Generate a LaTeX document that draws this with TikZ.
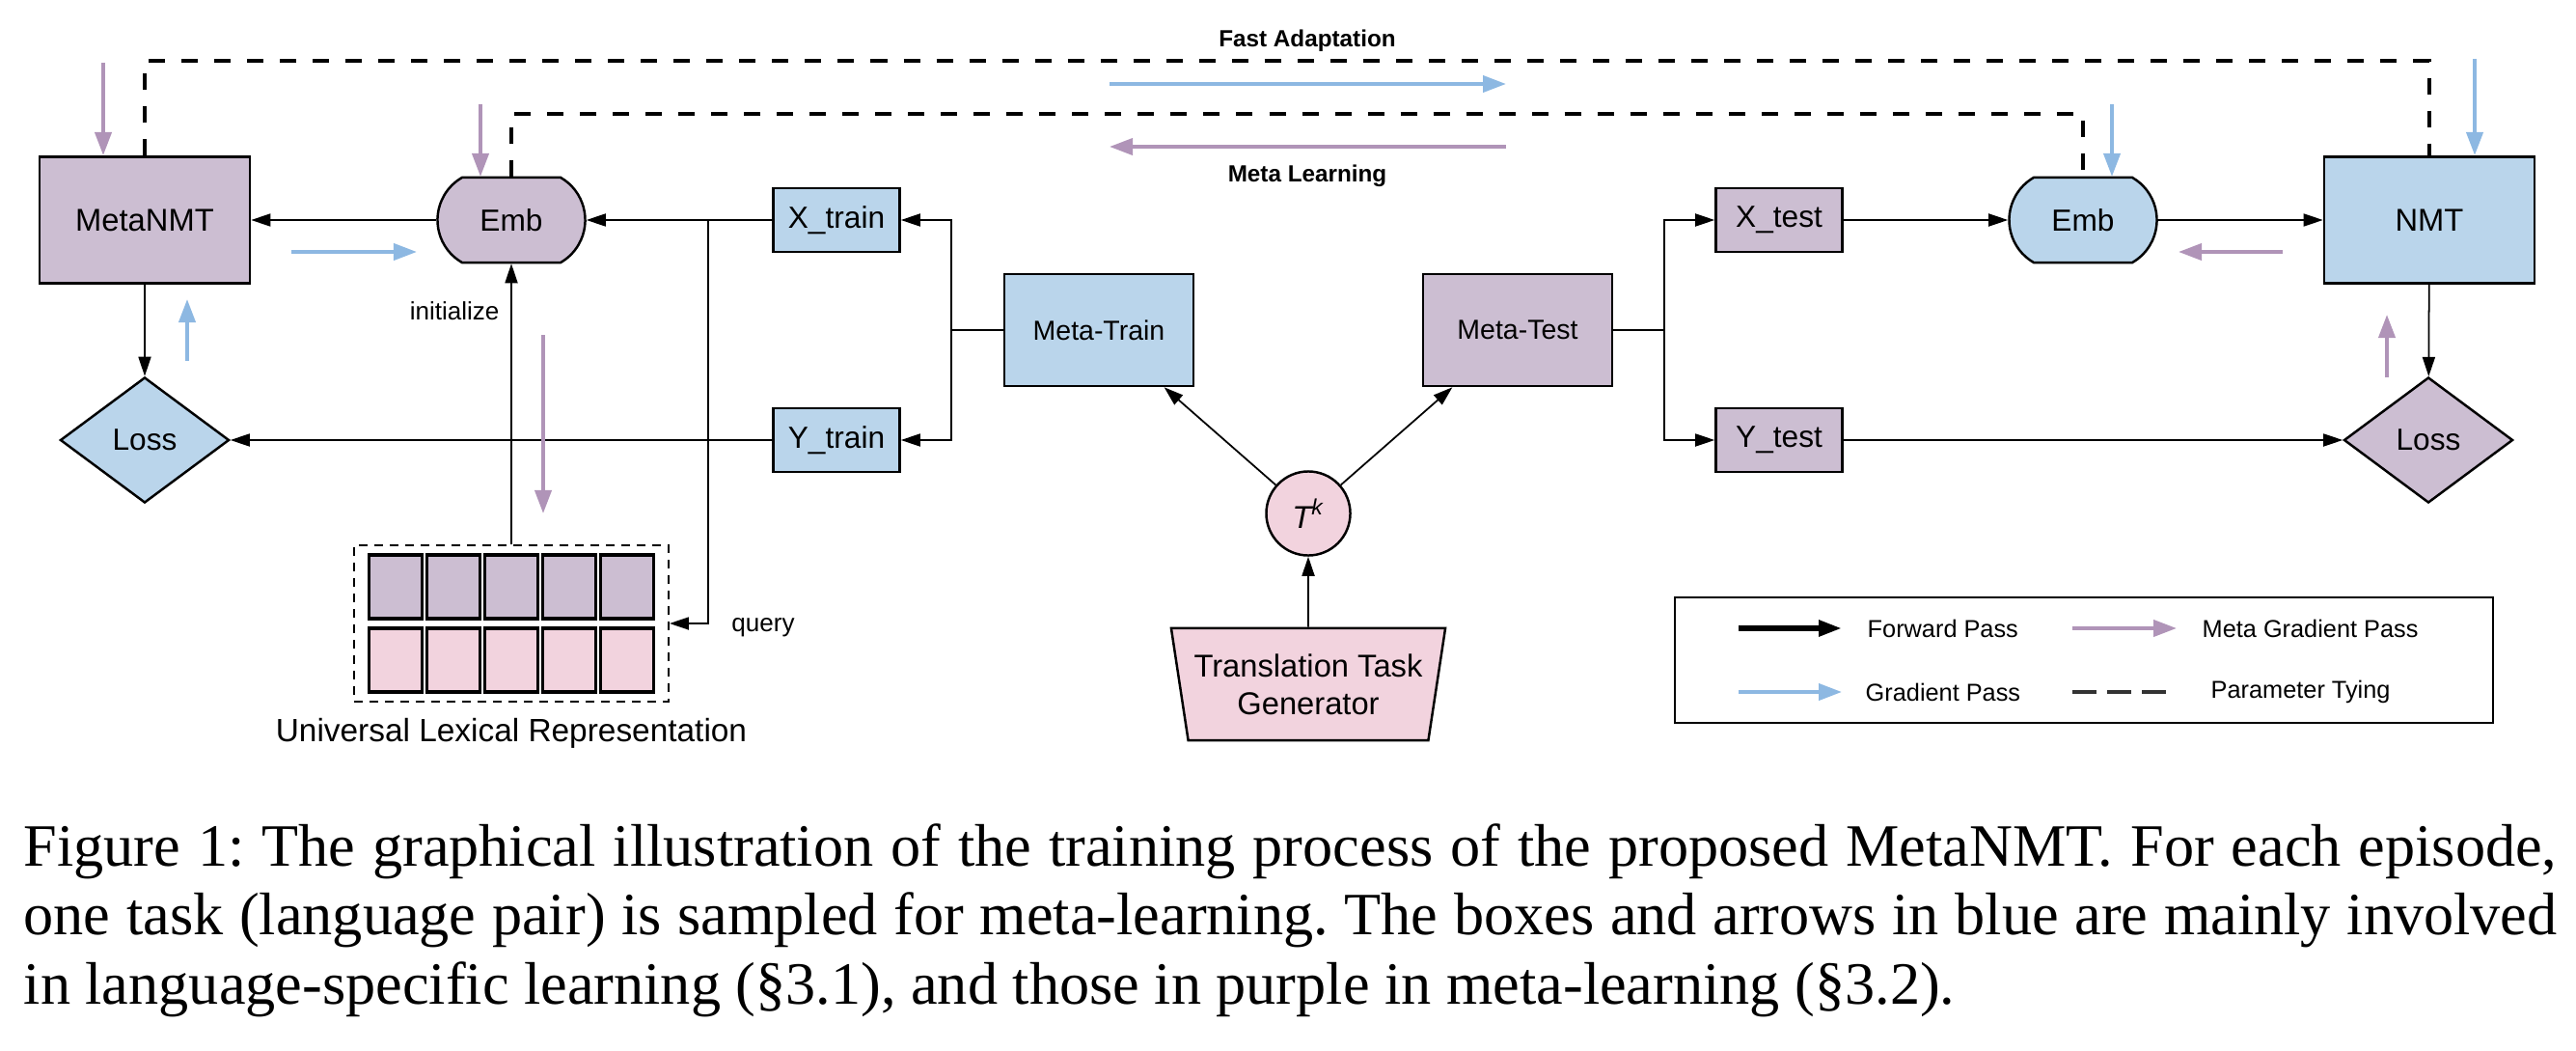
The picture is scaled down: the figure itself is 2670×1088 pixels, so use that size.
\documentclass[tikz,border=0pt]{standalone}
\usepackage{fontspec}
\setmainfont{Liberation Sans}
\newfontfamily\capfont{Liberation Serif}
\usetikzlibrary{
    arrows.meta,
    positioning,
    calc,
    shapes.geometric,
    shapes.misc
}
\definecolor{metapurple}{RGB}{204,190,210}
\definecolor{langblue}{RGB}{186,213,235}
\definecolor{taskpink}{RGB}{242,211,222}
\definecolor{gradblue}{RGB}{141,184,226}
\definecolor{gradpurple}{RGB}{176,148,184}
\tikzset{
  box/.style    = {draw, line width=0.7pt, inner sep=0pt, align=center,
                   font=\fontsize{9}{10.5}\selectfont},
  fwd/.style    = {-{Triangle[length=0.2cm,width=0.13cm]}, line width=0.5pt},
  tie/.style    = {line width=1.1pt, dash pattern=on 0.17cm off 0.17cm},
  grad/.style   = {-{Triangle[length=0.24cm,width=0.17cm]}, line width=1.1pt, gradblue},
  mgrad/.style  = {grad, gradpurple}
}

\begin{document}
\begin{tikzpicture}[x=0.01cm, y=-0.01cm,
    model/.style={box, minimum width=2.18cm, minimum height=1.31cm,
                  font=\fontsize{9.3}{11}\selectfont},
    io/.style={box, minimum width=1.31cm, minimum height=0.66cm},
    phase/.style={box, minimum width=1.96cm, minimum height=1.16cm,
                  font=\fontsize{8.1}{10}\selectfont},
    emb/.style={box, rounded rectangle, rounded rectangle arc length=120,
                minimum width=1.53cm, minimum height=0.88cm},
    loss/.style={box, diamond, minimum width=1.75cm, minimum height=1.30cm},
    cell/.style={draw, line width=0.9pt, fill=taskpink, inner sep=0pt,
                 minimum width=0.55cm, minimum height=0.66cm},
    lab/.style={font=\fontsize{7.4}{9}\selectfont},
    headlab/.style={font=\bfseries\fontsize{6.9}{8}\selectfont},
    legtext/.style={anchor=west, inner sep=0pt, font=\fontsize{7.2}{9}\selectfont}
  ]
    \useasboundingbox (0,0) rectangle (2670,1088);

    % language-specific side and meta side
    \node[model, fill=metapurple] (metanmt) at (150,228) {MetaNMT};
    \node[emb, fill=metapurple]   (emb1)    at (530,228) {Emb};
    \node[loss, fill=langblue]    (loss1)   at (150,456) {Loss};
    \node[io, fill=langblue]      (xtr)     at (867,228) {X\_train};
    \node[io, fill=langblue]      (ytr)     at (867,456) {Y\_train};
    \node[phase, fill=langblue]   (mtrain)  at (1139,342) {Meta-Train};
    \node[phase, fill=metapurple] (mtest)   at (1573,342) {Meta-Test};
    \node[io, fill=metapurple]    (xte)     at (1844,228) {X\_test};
    \node[io, fill=metapurple]    (yte)     at (1844,456) {Y\_test};
    \node[emb, fill=langblue]     (emb2)    at (2159,228) {Emb};
    \node[model, fill=langblue]   (nmt)     at (2518,228) {NMT};
    \node[loss, fill=metapurple]  (loss2)   at (2517,456) {Loss};

    \node[box, circle, fill=taskpink, minimum size=0.87cm,
          font=\fontsize{9.3}{11}\selectfont] (tk) at (1356,532) {\textit{T\textsuperscript{k}}};
    \node[box, trapezium, trapezium angle=75, shape border rotate=180,
          trapezium stretches=true, minimum width=2.84cm, minimum height=1.16cm,
          fill=taskpink, font=\fontsize{9.3}{11}\selectfont] (gen) at (1356,709)
          {Translation Task\\Generator};

    % universal lexical representation
    \node[draw, line width=0.5pt, dash pattern=on 0.09cm off 0.07cm,
          minimum width=3.26cm, minimum height=1.62cm] (ulr) at (530,646) {};
    \foreach \i in {-2,...,2} {
      \node[cell, fill=metapurple] (up\i) at (530+60*\i,608) {};
      \node[cell]                  (lo\i) at (530+60*\i,684) {};
    }
    \node[font=\fontsize{9.5}{11}\selectfont] (ulrlab) at (530,760) {Universal Lexical Representation};

    % forward pass
    \coordinate (qsplit)  at (734,228);
    \coordinate (trsplit) at (986,342);
    \coordinate (tesplit) at (1725,342);
    \draw[fwd] (emb1) -- (metanmt);
    \draw[fwd] (xtr) -- (emb1);
    \draw[fwd] (qsplit) |- (ulr.east);
    \draw[fwd] (ulr.north) -- node[lab, pos=0.83, left]{initialize} (emb1.south);
    \draw[fwd] (metanmt) -- (loss1);
    \draw[fwd] (ytr) -- (loss1);
    \draw (mtrain.west) -- (trsplit);
    \draw[fwd] (trsplit) |- (xtr);
    \draw[fwd] (trsplit) |- (ytr);
    \draw (mtest.east) -- (tesplit);
    \draw[fwd] (tesplit) |- (xte);
    \draw[fwd] (tesplit) |- (yte);
    \draw[fwd] (tk) -- (mtrain);
    \draw[fwd] (tk) -- (mtest);
    \draw[fwd] (gen) -- (tk);
    \draw[fwd] (xte) -- (emb2);
    \draw[fwd] (emb2) -- (nmt);
    \draw[fwd] (nmt) -- (loss2);
    \draw[fwd] (yte) -- (loss2);
    \node[lab] (qlab) at (791,650) {query};

    % parameter tying
    \draw[tie] (metanmt.north) -- ++(0,-98) -| (nmt.north);
    \draw[tie] (emb1.north) -- ++(0,-65) -| (emb2.north);
    \node[headlab] (fastlab) at (1355,42)  {Fast Adaptation};
    \node[headlab] (metalab) at (1355,182) {Meta Learning};

    % gradient passes
    \draw[grad]  (1150,87) -- (1561,87);
    \draw[mgrad] (1561,152) -- (1150,152);
    \draw[mgrad] (107,65) -- (107,161);
    \draw[mgrad] (498,108) -- (498,183);
    \draw[grad]  (302,261) -- (432,261);
    \draw[grad]  (194,374) -- (194,310);
    \draw[mgrad] (563,347) -- (563,532);
    \draw[grad]  (2189,108) -- (2189,183);
    \draw[grad]  (2565,61) -- (2565,161);
    \draw[mgrad] (2366,261) -- (2258,261);
    \draw[mgrad] (2474,391) -- (2474,326);

    % legend
    \node[draw, line width=0.6pt, minimum width=8.48cm, minimum height=1.30cm] (legend) at (2160,684) {};
    \draw[-{Triangle[length=0.24cm,width=0.16cm]}, line width=1.6pt] (1802,651) -- (1909,651);
    \node[legtext] (lfwd) at (1935,651) {Forward Pass};
    \draw[mgrad] (2148,651) -- (2256,651);
    \node[legtext] (lmeta) at (2282,651) {Meta Gradient Pass};
    \draw[grad] (1802,717) -- (1909,717);
    \node[legtext] (lgrad) at (1933,717) {Gradient Pass};
    \draw[tie, black!80, dash pattern=on 0.25cm off 0.11cm] (2148,717) -- (2256,717);
    \node[legtext] (ltie) at (2291,717) {Parameter Tying};

    % caption
    \node[anchor=north west, text width=26.24cm, align=justify, inner sep=0pt,
          font=\capfont\frenchspacing\fontsize{17.7}{20.3}\selectfont] (caption) at (24,853)
      {Figure 1: The graphical illustration of the training process of the proposed MetaNMT. For each episode,\linebreak
       one task (language pair) is sampled for meta-learning. The boxes and arrows in blue are mainly involved\linebreak
       in language-specific learning (\S3.1), and those in purple in meta-learning (\S3.2).};
  \end{tikzpicture}
\end{document}
